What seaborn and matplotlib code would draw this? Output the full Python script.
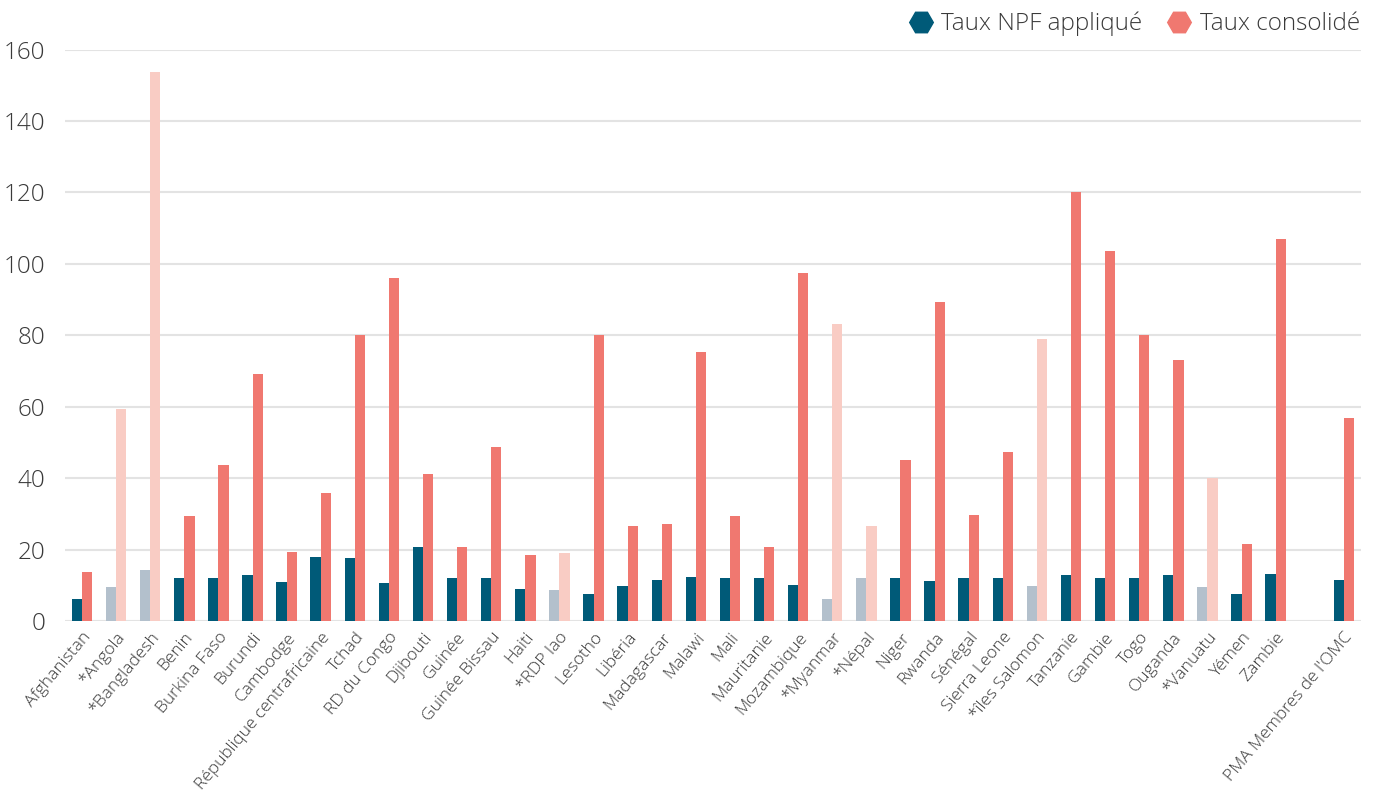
import matplotlib
matplotlib.use("Agg")
import matplotlib.pyplot as plt
from matplotlib.lines import Line2D
import numpy as np
import pandas as pd
import seaborn as sns

# Pays (l'astérisque marque les pays dont les barres sont atténuées)
pays = [
    "Afghanistan", "*Angola", "*Bangladesh", "Benin", "Burkina Faso", "Burundi",
    "Cambodge", "République centrafricaine", "Tchad", "RD du Congo", "Djibouti",
    "Guinée", "Guinée Bissau", "Haiti", "*RDP lao", "Lesotho", "Libéria",
    "Madagascar", "Malawi", "Mali", "Mauritanie", "Mozambique", "*Myanmar",
    "*Népal", "Niger", "Rwanda", "Sénégal", "Sierra Leone", "*îles Salomon",
    "Tanzanie", "Gambie", "Togo", "Ouganda", "*Vanuatu", "Yémen", "Zambie",
    " ", "PMA Membres de l'OMC",
]

taux_npf = [
    6.3, 9.4, 14.2, 12.0, 12.0, 12.8, 11.0, 18.0, 17.6, 10.6, 20.6, 12.0, 12.0,
    8.9, 8.6, 7.6, 9.7, 11.4, 12.4, 12.0, 12.0, 10.2, 6.3, 12.0, 12.0, 11.1,
    12.0, 12.0, 9.8, 12.8, 12.0, 12.0, 12.8, 9.5, 7.6, 13.3, np.nan, 11.4,
]

taux_consolide = [
    13.6, 59.3, 153.8, 29.3, 43.8, 69.1, 19.2, 35.9, 80.0, 96.1, 41.2, 20.6,
    48.6, 18.4, 19.0, 80.0, 26.7, 27.2, 75.3, 29.3, 20.6, 97.5, 83.1, 26.5,
    45.1, 89.3, 29.8, 47.2, 78.9, 120.1, 103.6, 80.0, 73.1, 40.0, 21.5, 107.0,
    np.nan, 56.9,
]

series = ["Taux NPF appliqué", "Taux consolidé"]

BLEU = "#005A78"
ROUGE = "#F07870"
BLEU_PALE = "#B3C0CC"
ROUGE_PALE = "#F9CCC4"
GRIS_TEXTE = "#3A3A3A"

df = pd.DataFrame({
    "pays": pays * 2,
    "taux": taux_npf + taux_consolide,
    "serie": [series[0]] * len(pays) + [series[1]] * len(pays),
})

sns.set_theme(style="white")
plt.rcParams["font.family"] = ["Open Sans", "DejaVu Sans"]

fig = plt.figure(figsize=(13.76, 7.96), dpi=100)
ax = fig.add_axes([0.0472, 0.2198, 0.9418, 0.718])

sns.barplot(
    data=df, x="pays", y="taux", hue="serie", order=pays, hue_order=series,
    palette=[BLEU, ROUGE], width=0.6, linewidth=0, saturation=1,
    legend=False, ax=ax,
)

# Couleurs atténuées pour les pays marqués d'un astérisque
for cont, pale in zip(ax.containers, [BLEU_PALE, ROUGE_PALE]):
    for nom, barre in zip(pays, cont.patches):
        if nom.startswith("*"):
            barre.set_facecolor(pale)

ax.set_ylim(0, 160)
ax.set_xlim(-0.5, len(pays) - 0.5)
ax.set_yticks(np.arange(0, 161, 20))
ax.yaxis.grid(True, color="#E3E3E3", linewidth=1.5)
ax.set_axisbelow(True)
for s in ax.spines.values():
    s.set_visible(False)
ax.set_xlabel("")
ax.set_ylabel("")
ax.tick_params(axis="both", length=0)
ax.tick_params(axis="y", labelsize=17.5, labelcolor=GRIS_TEXTE, pad=14)
for lab in ax.get_yticklabels():
    lab.set_fontweight("light")
ax.set_xticks(range(len(pays)))
ax.set_xticklabels(pays, rotation=50, ha="right", rotation_mode="anchor",
                   fontsize=12.5, color=GRIS_TEXTE, fontweight="light")
ax.tick_params(axis="x", pad=6)

poignees = [
    Line2D([], [], linestyle="none", marker="H", markersize=17,
           markerfacecolor=c, markeredgecolor=c, label=l)
    for c, l in zip([BLEU, ROUGE], series)
]
leg = fig.legend(handles=poignees, loc="upper right", bbox_to_anchor=(1.004, 1.013),
                 ncol=2, frameon=False, fontsize=17.5, handletextpad=0.35,
                 columnspacing=1.0, handlelength=1.0)
for t in leg.get_texts():
    t.set_color(GRIS_TEXTE)
    t.set_fontweight("light")

fig.savefig("out.png", dpi=100)
